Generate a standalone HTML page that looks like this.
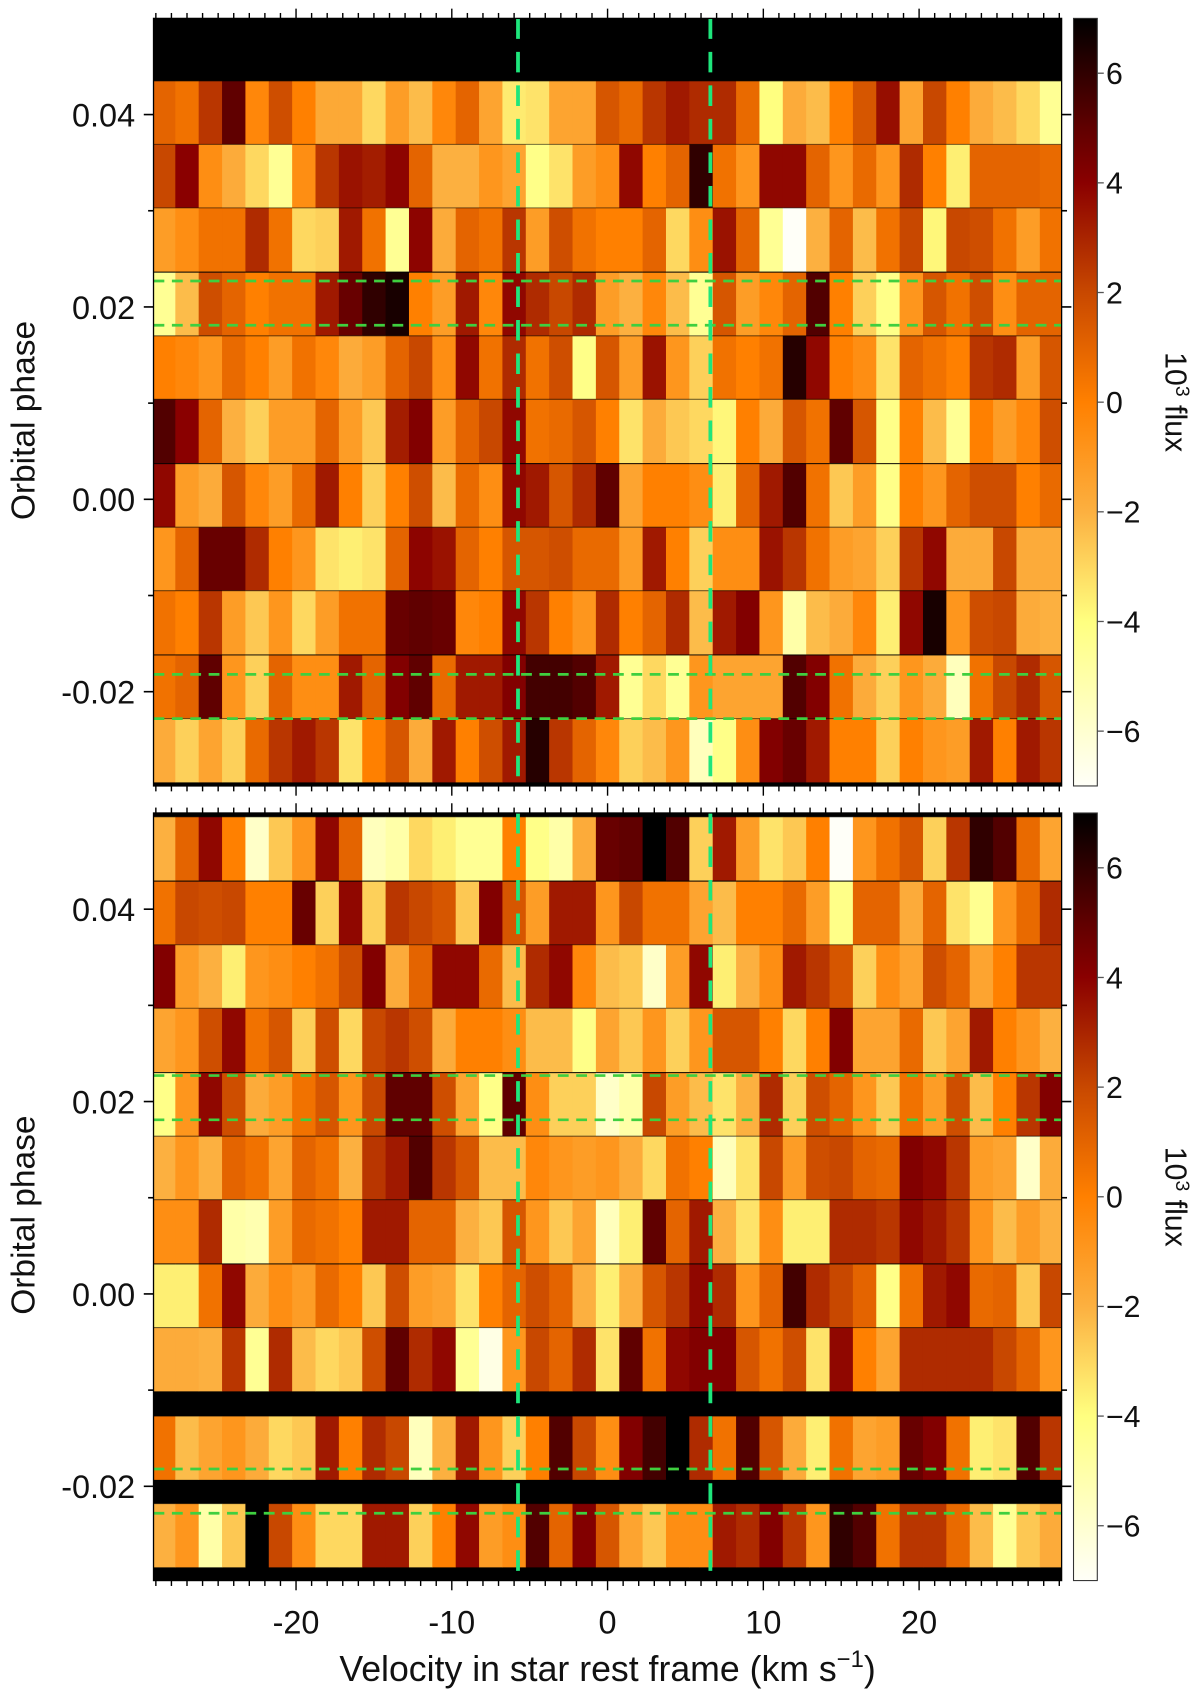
<!DOCTYPE html>
<html><head><meta charset="utf-8">
<style>
html,body{margin:0;padding:0;background:#fff;}
svg{display:block;}
text{font-family:"Liberation Sans",sans-serif;fill:#111;}
</style></head>
<body>
<svg id="chart" xmlns="http://www.w3.org/2000/svg" width="1200" height="1693" viewBox="0 0 1110 1566" preserveAspectRatio="none">
<defs>
<linearGradient id="cbgrad" x1="0" y1="1" x2="0" y2="0">
<stop offset="0" stop-color="#fffff8"/>
<stop offset="0.214" stop-color="#ffff80"/>
<stop offset="0.357" stop-color="#fcb040"/>
<stop offset="0.5" stop-color="#ff8000"/>
<stop offset="0.643" stop-color="#c84800"/>
<stop offset="0.786" stop-color="#8a0000"/>
<stop offset="0.857" stop-color="#600000"/>
<stop offset="0.929" stop-color="#300000"/>
<stop offset="1" stop-color="#000000"/>
</linearGradient>
<clipPath id="clipTop"><rect x="142" y="17" width="840" height="710"/></clipPath>
<clipPath id="clipBot"><rect x="142" y="752" width="840" height="710"/></clipPath>
</defs>
<g id="panels"></g>
<text x="562" y="1555" font-size="33" text-anchor="middle">Velocity in star rest frame (km s<tspan dy="-13" font-size="22">−1</tspan><tspan dy="13">)</tspan></text>
</svg>
<script>
const velocityBins = [-28.5,-27,-25.5,-24,-22.5,-21,-19.5,-18,-16.5,-15,-13.5,-12,-10.5,-9,-7.5,-6,-4.5,-3,-1.5,0,1.5,3,4.5,6,7.5,9,10.5,12,13.5,15,16.5,18,19.5,21,22.5,24,25.5,27,28.5];
const binWidth = 1.5;
const rowHeightPhase = 0.00663;
const topRowPhaseTop = [0.0435,0.0369,0.0303,0.0236,0.0170,0.0104,0.0037,-0.0029,-0.0095,-0.0162,-0.0228];
const botRowPhaseTop = [0.0496,0.0429,0.0363,0.0297,0.0230,0.0164,0.0098,0.0031,-0.0035,-0.0127,-0.0218];
const topFlux = [
[1,0.5,2.5,5,-0.3,1.8,0,-1.7,-1.7,-3,-1.2,-2.3,-0.3,1,-1.5,-3.5,-3.3,-1.5,-1.5,1.5,0.8,2.5,3.3,2.8,2.8,0.8,-4,-1.8,-2.3,0,1.5,3.6,-1.5,2,0,-1.8,-2.3,-3,-4.5],
[2,4,-0.6,-1.8,-3,-4.5,-0.6,2.5,3.5,3.2,3.9,1,-2,-2,-0.9,-1.5,-4.2,-3.3,-1.2,-0.6,3.8,0,1,6,0.5,-0.9,3.8,3.8,1,-0.9,0.8,-0.9,2.8,0,-3.6,1,1,1,0.8],
[-1.2,-0.6,0.5,0.5,2.8,0.5,-3,-2.8,3.3,0.5,-4.5,3.9,-1.8,1,0.5,2.5,-1.2,1.8,0.5,0,0,1,-3,-0.6,3.5,1,-4.5,-7,-2,1,-2.3,0.5,2,-3.8,2,1.8,0.5,-1.2,0.5],
[-4.5,-2.3,1.8,1,0,0.5,0.5,3.3,4.8,6,6.5,0,-1.2,3.3,-0.3,3.8,2.8,2,2.8,-1.2,-2,-0.3,-2.3,-4.5,1.5,-1.2,-0.3,1,5.3,0,-2.8,-4.2,-0.9,1.5,0.5,1.8,-0.6,1,1],
[0,-0.3,-0.9,0.8,0,-1.2,0.5,-0.3,-1.8,-1.2,1,2,-0.6,3.8,0.5,2.8,0.5,1.8,-4.2,1.5,-1.2,3.5,-0.9,-2.8,0.5,0,0.5,6.2,3.8,0,-0.6,-3.3,1,0.5,0,2.5,2.8,-1.2,1.5],
[5.3,4,1,-2,-2.8,-1.2,-1.2,1,-1.2,-2.6,3.2,4.2,-1.2,1,2,3.8,0.5,0.8,1.5,0,-3.3,-1.8,-2.6,-3,-3.8,0,-1.8,1.5,0.5,5,1.5,-4.2,0,-2.3,-4.5,0,-1.2,-0.3,1.8],
[3.8,-1.2,-1.8,1.5,-0.3,-1.2,0.8,3.3,0,-2.8,0,1.8,-2.3,0.8,-0.6,3.8,3.3,1.5,2.8,5,-1.5,0,0,-0.6,-3.6,1,3.3,5.3,0.5,-2.6,-1.2,-4.2,0,-0.9,1,1.8,1.8,0,0.8],
[-0.9,1,4.8,4.8,2.8,0,-0.9,-3.3,-3.6,-3.3,1,3.9,3.5,1,0,1.5,1.5,1.8,0.8,0.8,-1.2,3.3,0,-2.8,-0.6,-0.6,3.5,2.5,0.5,-1.2,-1.5,-2.8,2.5,3.8,-1.8,-1.8,2,-1.8,-1.8],
[0.5,0,2.5,-1.2,-2.6,-0.9,-3,-1.2,0.5,0.5,4.8,5,4.8,-0.3,0,3.8,2.5,0,-0.9,2.8,0,1,2.8,-2.3,3.3,4.2,-0.9,-5,-2.3,-1.8,-0.3,-3.6,3.8,6.5,-0.9,1.8,2,-1.8,-2],
[0.5,1,5,-0.9,-2.8,1,-0.6,-0.6,3.3,1,4.2,5,0.8,3.3,3.3,4.2,5.6,5.6,5.3,3.3,-4.5,-3,-4.5,-0.9,-1.5,-1.5,-1.5,5.3,4.2,0.5,-1.8,-2.8,-0.9,-1.8,-5.5,0.5,2,2.8,1.5],
[-1.8,-2.8,-1.5,-2.8,0.8,2.5,3.3,2.5,-3.3,0,1.5,-1.8,3.3,0,1.8,3.3,6.2,2.5,1,-0.3,-2.8,-2.3,-0.9,-5.5,-4.2,-0.6,4.2,4.8,3.3,0,0,-2.8,0,-0.9,-1.2,3.3,0,3.3,2.5]
];
const botFlux = [
[-2,1,3.8,0,-5.8,-2.6,-0.9,3.8,1,-5.5,-5,-3,-3.6,-4.5,-4.5,0,-4.2,-5,-1.8,4.8,5,7,5.3,-2.8,3.3,-1.2,-3.3,-2.6,0,-7,-0.9,0.5,1.5,-2.8,2.5,6,5.3,0.8,-1.5],
[0.5,2,1.8,2,0,0,4.8,-2.8,3.8,-2.8,2.5,2,1.5,-2.6,4.2,1.5,-1.2,3.3,3.3,-0.9,2,0.5,0.5,-1.5,-2.3,0,0,0.8,-1.2,-4.2,1,1,-1.8,1,-3.3,-4.4,-0.9,0.8,2.8],
[4.2,-1.2,-2,-3.6,-0.9,-0.6,0,0.5,1.8,4.2,-1.8,1,3.8,3.8,0.8,-2.3,2.8,3.8,-0.3,-2.3,-2.6,-5.8,-1.2,3.8,-3.6,-2,-0.6,3.3,2.5,1.5,-2.8,-0.6,-1.5,1.8,1,-1.5,0,2.5,2.5],
[-1.5,-0.9,1.8,3.8,0.5,1.5,-2.8,1.8,-3,2,2.5,1.8,-1.8,0,0,-0.6,-2.3,-2.3,-4.2,-1.5,-2.6,-0.9,-2.8,-0.9,1.5,1.5,0,-3,0,4.2,-1.5,-1.5,0.8,-2.6,-1.5,3.3,0,-0.9,-2],
[-4.2,-0.9,3.8,1.8,-1.8,-1.2,0.5,1.5,-0.9,2,5,5,1.8,-1.5,-4.2,5,-0.6,-2.8,-2.8,-5.8,-5,2,-1.2,-2.3,-3.3,-2,2.8,-2.8,1.8,1,-0.9,-2.6,0.5,-1.2,1.8,-2.3,0,2.5,4.2],
[-2,-0.9,-2,1,0.5,-1.5,1,0.5,-2,2.5,3.3,5.3,2.5,1.5,-2.3,-2.3,-0.3,-0.9,-1.2,-0.9,-1.8,-3,0.5,0,-5.5,-3.3,2,-1.2,1.8,2,1,0.8,4.2,3.8,2.5,-1.2,-1.5,-5.8,-1.8],
[-0.6,-0.6,2.8,-5,-5.2,-1.2,0.8,0.5,0,3.3,3.3,1,1,-2,-2.6,1.5,-0.9,-2.6,-1.5,-5.5,-3.6,5,1,3.3,-2,-3.3,-0.6,-3.6,-3.6,2.8,2.8,2.5,3.8,3.3,2.5,-0.9,-2.3,-1.2,-2],
[-3.6,-3.6,0.5,3.8,-1.8,-0.6,-1.2,0.8,0,-2.6,1.8,-1.2,-1.5,-3.3,0,1,1.8,1,-2,-3.6,-2,1.5,2.5,3.8,2.8,-0.9,1,5.6,2.8,2,1,-4.2,0.5,3.3,3.8,0.8,1,-2.6,2],
[-1.8,-1.8,-2,2.5,-4.5,2.8,-2.3,-3,-2.6,1.8,5,2.8,3.8,-4.5,-6.5,-0.9,2,1,2.8,-3.3,5,0.5,3.8,4.2,4.2,1.5,0.5,1.8,-3.3,3.8,0,-1.5,2.8,2.8,2.8,2.8,2,1,-0.9],
[0.5,-2.3,-1.5,-0.9,-1.8,-3,-2.6,3.3,0,2.8,2,-5.5,-2,3.3,-0.9,-2.8,0,5.3,2,-0.6,4.2,5.6,7,2.8,0.5,5.3,1.5,-1.8,-3.6,0.5,-1.5,-1.2,4.8,4.2,0.5,-3.6,-3.3,5.3,2.5],
[-2,-0.9,-5,-2.6,7,2,-0.6,-3,-3,3.3,3.3,-2.8,0,3.8,-1.2,-0.6,5.3,1,4.2,1.5,-1.5,-2.6,-0.6,-0.6,3.3,2.8,4.2,2.5,-0.9,6,5.3,0.5,2.5,2.5,0.8,-2.3,-4.5,-2.6,-1.8]
];
const xTickValues = [-20,-10,0,10,20];
const xTickLabels = ["-20","-10","0","10","20"];
const yTickValues = [0.04,0.02,0.00,-0.02];
const yTickLabels = ["0.04","0.02","0.00","-0.02"];
const cbTickValues = [6,4,2,0,-2,-4,-6];
const cbTickLabels = ["6","4","2","0","\u22122","\u22124","\u22126"];
const markerVelocities = [-5.75, 6.6];
const markerPhases = [0.0227, 0.0181, -0.0182, -0.0228];

const NS = "http://www.w3.org/2000/svg";
const X0 = 142, X1 = 982, VMIN = -29.15, VMAX = 29.15;
const PMIN = -0.0298, PMAX = 0.05, FMIN = -7, FMAX = 7;
function xScale(v){ return X0 + (v - VMIN) / (VMAX - VMIN) * (X1 - X0); }
function yScaleFor(top, bottom){ return p => top + (PMAX - p) / (PMAX - PMIN) * (bottom - top); }
const stops = [[-7,[255,255,248]],[-4,[255,255,128]],[-2,[252,176,64]],[0,[255,128,0]],[2,[200,72,0]],[4,[138,0,0]],[5,[96,0,0]],[6,[48,0,0]],[7,[0,0,0]]];
function color(f){
  f = Math.max(FMIN, Math.min(FMAX, f));
  for (let i = 0; i < stops.length - 1; i++){
    const a = stops[i], b = stops[i+1];
    if (f <= b[0]){
      const t = (f - a[0]) / (b[0] - a[0]);
      const c = a[1].map((v,k) => Math.round(v + (b[1][k] - v) * t));
      return "rgb(" + c.join(",") + ")";
    }
  }
  return "#000";
}
function mk(tag, attrs, parent){
  const e = document.createElementNS(NS, tag);
  for (const k in attrs) e.setAttribute(k, attrs[k]);
  parent.appendChild(e);
  return e;
}
const root = document.getElementById("panels");

function drawPanel(idx, top, bottom, rowTops, flux, clipId){
  const y = yScaleFor(top, bottom);
  const g = mk("g", {}, root);
  
  
  const hm = mk("g", {"clip-path": "url(#" + clipId + ")"}, g);
  
  
  const bg = mk("rect", {x: X0, y: top, width: X1 - X0, height: bottom - top, fill: "#000"}, hm);
  
  
  rowTops.forEach((pt, r) => {
    const yt = y(pt), yb = y(pt - rowHeightPhase);
    velocityBins.forEach((v, c) => {
      const xl = xScale(v - binWidth / 2), xr = xScale(v + binWidth / 2);
      const cell = mk("rect", {x: xl.toFixed(2), y: yt.toFixed(2), width: (xr - xl + 0.4).toFixed(2), height: (yb - yt).toFixed(2), fill: color(flux[r][c])}, hm);
      
      
    });
    const ln = mk("line", {x1: X0, x2: X1, y1: yt, y2: yt, stroke: "#000", "stroke-width": 1, "stroke-opacity": 0.55}, hm);
    
    
  });
  markerPhases.forEach(p => {
    const hy = y(p);
    const hl = mk("line", {x1: X0, x2: X1, y1: hy, y2: hy, stroke: "#3fcf3f", "stroke-width": 2.5, "stroke-dasharray": "10 7"}, hm);
    
    
  });
  markerVelocities.forEach(v => {
    const vx = xScale(v);
    const vl = mk("line", {x1: vx, x2: vx, y1: top, y2: bottom, stroke: "#1ee67c", "stroke-width": 3.5, "stroke-dasharray": "19 12"}, hm);
    
    
  });
  const fr = mk("rect", {x: X0, y: top, width: X1 - X0, height: bottom - top, fill: "none", stroke: "#000", "stroke-width": 1.2}, g);
  
  
  const ax = mk("g", {stroke: "#000", "stroke-width": 1.3}, g);
  
  
  for (let v = -29; v <= 29; v++){
    const major = v % 10 === 0, len = major ? 9 : 5, tx = xScale(v);
    mk("line", {x1: tx, x2: tx, y1: top, y2: top - len}, ax);
    mk("line", {x1: tx, x2: tx, y1: bottom, y2: bottom + len}, ax);
  }
  if (idx === 1){
    xTickValues.forEach((v, i) => {
      const t = mk("text", {x: xScale(v), y: 1511, "font-size": 30, "text-anchor": "middle"}, g);
      t.textContent = xTickLabels[i];
      
      
    });
  }
  const ay = mk("g", {stroke: "#000", "stroke-width": 1.5}, g);
  
  
  for (let k = -2; k <= 4; k++){
    const p = k * 0.01, ty = y(p), major = (k % 2 === 0), len = major ? 9 : 5;
    mk("line", {x1: X0, x2: X0 - len, y1: ty, y2: ty}, ay);
    mk("line", {x1: X1, x2: X1 + len, y1: ty, y2: ty}, ay);
  }
  yTickValues.forEach((p, i) => {
    const t = mk("text", {x: 125, y: y(p) + 11, "font-size": 30, "text-anchor": "end"}, g);
    t.textContent = yTickLabels[i];
    
    
  });
  const yt = mk("text", {x: 0, y: 0, "font-size": 31, "text-anchor": "middle", transform: "translate(32," + ((top + bottom) / 2 + 17) + ") rotate(-90)"}, g);
  yt.textContent = "Orbital phase";
  
  
  const cb = mk("g", {}, g);
  
  
  mk("rect", {x: 993, y: top, width: 22, height: bottom - top, fill: "url(#cbgrad)", stroke: "#333", "stroke-width": 1}, cb);
  const cy = f => top + (FMAX - f) / (FMAX - FMIN) * (bottom - top);
  cbTickValues.forEach((f, i) => {
    mk("line", {x1: 1015, x2: 1021, y1: cy(f), y2: cy(f), stroke: "#555", "stroke-width": 1.2}, cb);
    const t = mk("text", {x: 1023, y: cy(f) + 10, "font-size": 28}, cb);
    t.textContent = cbTickLabels[i];
    
    
  });
  const cl = mk("text", {x: 0, y: 0, "font-size": 28, "text-anchor": "middle", transform: "translate(1078," + (top + 355) + ") rotate(90)"}, cb);
  cl.innerHTML = '10<tspan dy="-10" font-size="18">3</tspan><tspan dy="10"> flux</tspan>';
  
  
}
drawPanel(0, 17, 727, topRowPhaseTop, topFlux, "clipTop");
drawPanel(1, 752, 1462, botRowPhaseTop, botFlux, "clipBot");
</script>
</body></html>
